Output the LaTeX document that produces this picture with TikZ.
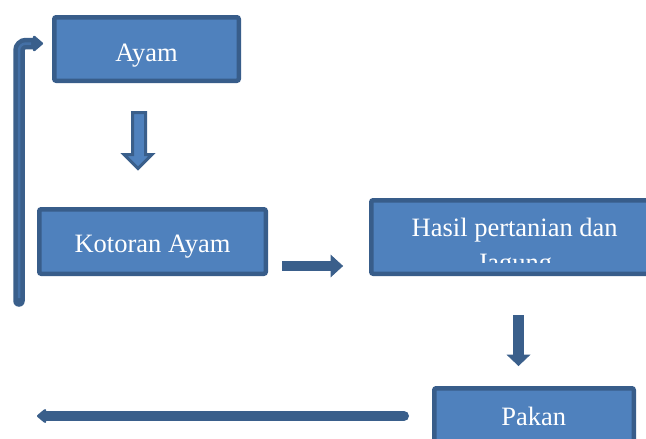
\documentclass[tikz,border=0pt]{standalone}
\usepackage{fontspec}
\setmainfont{Liberation Serif}
\usetikzlibrary{arrows.meta}
\definecolor{boxfill}{HTML}{4F81BD}
\definecolor{boxline}{HTML}{385D8A}
\definecolor{arrowdark}{HTML}{3A5F8B}
\definecolor{arrowlight}{HTML}{4470A6}
\tikzset{
  box/.style={draw=boxline, fill=boxfill, line width=4.5pt, rounded corners=2pt, inner sep=0pt},
  lbl/.style={text=white, font=\fontsize{26.5}{35}\selectfont, anchor=base, inner sep=0pt},
  darkarrow/.style={fill=arrowdark, draw=arrowdark, line width=0.8pt, line join=miter},
  lightarrow/.style={fill=boxfill, draw=arrowdark, line width=3pt, line join=miter},
  linearrow/.style={draw=arrowdark, line width=10pt, -{Triangle[length=10pt,width=16pt,round]}},
}
\begin{document}
\begin{tikzpicture}[x=1pt,y=-1pt]
\clip (0,0) rectangle (646,439);
\fill[white] (0,0) rectangle (646,439);

% boxes
\node[box, minimum width=184.5pt, minimum height=63.5pt] (ayam) at (146.5,49) {};
\node[lbl] (ayamT) at (146.5,61) {Ayam};

\node[box, minimum width=226.5pt, minimum height=64.5pt] (kotoran) at (152.5,241.5) {};
\node[lbl] (kotoranT) at (152.5,252) {Kotoran Ayam};

\node[box, minimum width=286.5pt, minimum height=73.5pt] (hasil) at (514.5,237) {};
\begin{scope}
  \clip (360,200) rectangle (660,262);
  \node[lbl] (hasilT1) at (514.7,236) {Hasil pertanian dan};
  \node[lbl] (hasilT2) at (514.7,271) {Jagung};
\end{scope}

\node[box, minimum width=199.5pt, minimum height=73.5pt] (pakan) at (534,425) {};
\node[lbl] (pakanT) at (533.7,425) {Pakan};

% down block arrow (Ayam -> Kotoran)
\draw[lightarrow] (132.5,112.5) -- (145.5,112.5) -- (145.5,154.5) -- (152,154.5)
  -- (138,168.5) -- (124,154.5) -- (132.5,154.5) -- cycle;

% right block arrow (Kotoran -> Hasil)
\draw[darkarrow] (282.5,261.5) -- (331,261.5) -- (331,255.5) -- (342.5,266)
  -- (331,276.5) -- (331,270.5) -- (282.5,270.5) -- cycle;

% down block arrow (Hasil -> Pakan)
\draw[darkarrow] (513.5,315.5) -- (523.5,315.5) -- (523.5,355) -- (529.5,355)
  -- (518.5,365.5) -- (507.5,355) -- (513.5,355) -- cycle;

% bottom left arrow from Pakan
\coordinate (bstart) at (404,416);
\coordinate (bend) at (37,416);
\draw[linearrow, line cap=round] (bstart) -- (bend);

% bent arrow up to Ayam
\coordinate (ustart) at (19,301);
\coordinate (ucorner) at (19,43.5);
\coordinate (uend) at (43,43.5);
\draw[linearrow, line width=11.5pt, rounded corners=7pt, line cap=round,
  -{Triangle[length=11pt,width=18pt,round]}] (ustart) -- (ucorner) -- (uend);
\draw[draw=arrowlight, line width=2.5pt, rounded corners=7pt] (19,298) -- (19,43.5) -- (31,43.5);
\end{tikzpicture}
\end{document}
